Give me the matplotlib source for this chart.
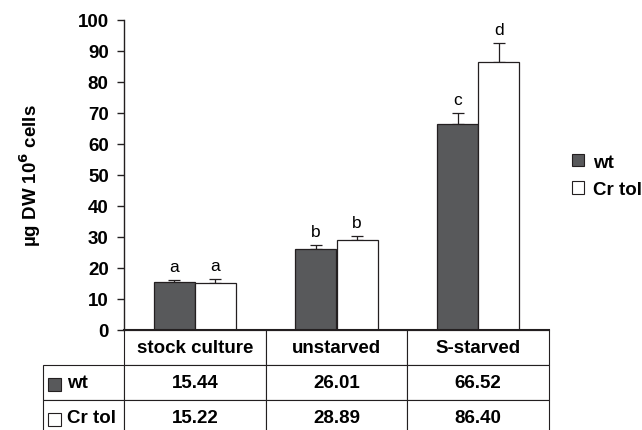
import matplotlib
matplotlib.use("Agg")
from matplotlib import pyplot as plt
from matplotlib.patches import Patch, Rectangle
import numpy as np

plt.rcParams['font.family'] = ['Liberation Sans', 'DejaVu Sans']

conditions = ["stock culture", "unstarved", "S-starved"]
series = ["wt", "Cr tol"]
wt_vals = [15.44, 26.01, 66.52]
cr_vals = [15.22, 28.89, 86.40]
wt_err = [0.7, 1.5, 3.5]
cr_err = [1.3, 1.5, 6.1]
wt_letters = ["a", "b", "c"]
cr_letters = ["a", "b", "d"]

WT_COLOR = '#58595b'
CR_COLOR = 'white'
EDGE = '#231f20'
FS = 13.5
BAR_W = 0.29

fig = plt.figure(figsize=(6.42, 4.31), dpi=100)
ax = fig.add_axes([124/642, 1 - 331/431, 425/642, 310/431])

x = np.arange(len(conditions))
ax.bar(x - BAR_W/2, wt_vals, BAR_W, color=WT_COLOR, edgecolor=EDGE, linewidth=0.9, zorder=2)
ax.bar(x + BAR_W/2, cr_vals, BAR_W, color=CR_COLOR, edgecolor=EDGE, linewidth=0.9, zorder=2)
ax.errorbar(x - BAR_W/2, wt_vals, yerr=[np.zeros(3), wt_err], fmt='none',
            ecolor=EDGE, elinewidth=0.9, capsize=4.3, capthick=0.9, zorder=1)
ax.errorbar(x + BAR_W/2, cr_vals, yerr=[np.zeros(3), cr_err], fmt='none',
            ecolor=EDGE, elinewidth=0.9, capsize=4.3, capthick=0.9, zorder=1)

for xi, v, e, l in zip(x - BAR_W/2, wt_vals, wt_err, wt_letters):
    ax.annotate(l, (xi, v + e), xytext=(0, 6.5), textcoords='offset points',
                ha='center', va='baseline', fontsize=12.5)
for xi, v, e, l in zip(x + BAR_W/2, cr_vals, cr_err, cr_letters):
    ax.annotate(l, (xi, v + e), xytext=(0, 6.5), textcoords='offset points',
                ha='center', va='baseline', fontsize=12.5)

ax.set_xlim(-0.5, 2.5)
ax.set_ylim(0, 100)
ax.set_yticks(np.arange(0, 101, 10))
ax.set_xticks([])
for lab in ax.get_yticklabels():
    lab.set_fontweight('bold')
    lab.set_fontsize(FS)
ax.tick_params(axis='y', length=5, width=1, pad=6, colors=EDGE, labelcolor='black')
ax.spines['top'].set_visible(False)
ax.spines['right'].set_visible(False)
ax.spines['left'].set_linewidth(1.0)
ax.spines['left'].set_color(EDGE)
ax.spines['bottom'].set_linewidth(1.5)
ax.spines['bottom'].set_color(EDGE)

ax.set_ylabel("µg DW 10$^\\mathbf{6}$ cells", fontsize=13.5, fontweight='bold')
ax.yaxis.set_label_coords(-94/425, 0.5)
ax.yaxis.label.set_va('center')

# data table under the axis (bbox covers the data cells, row labels sit left of it)
cell_text = [[f"{v:.2f}" for v in wt_vals], [f"{v:.2f}" for v in cr_vals]]
lab_w = 81/425
tab_h = 105/310
tbl = ax.table(cellText=cell_text, rowLabels=series, colLabels=conditions,
               cellLoc='center', rowLoc='left', colWidths=[1/3]*3,
               bbox=[0, -tab_h, 1, tab_h])
tbl._autoColumns = []
tbl.auto_set_font_size(False)
for (r, c), cell in tbl.get_celld().items():
    cell.set_edgecolor(EDGE)
    cell.set_linewidth(0.8)
    cell.get_text().set_fontsize(FS)
    cell.get_text().set_fontweight('bold')
    if c == -1:
        cell.set_width(lab_w)
        cell.PAD = 0.3

# little colour keys in the row label cells
row_h = tab_h / 3
for i, col in enumerate([WT_COLOR, CR_COLOR]):
    yc = -row_h * (1.5 + i) - 1.5/310
    ax.add_patch(Rectangle((-lab_w + 5/425, yc - 6.5/310), 13/425, 13/310,
                           transform=ax.transAxes, facecolor=col, edgecolor=EDGE,
                           linewidth=0.8, clip_on=False))

handles = [Patch(facecolor=WT_COLOR, edgecolor=EDGE, linewidth=0.8),
           Patch(facecolor=CR_COLOR, edgecolor=EDGE, linewidth=0.8)]
leg = fig.legend(handles, series, loc='center left', bbox_to_anchor=(572/642, 0.59),
                 frameon=False, borderpad=0, borderaxespad=0, handlelength=0.65,
                 handleheight=0.65, handletextpad=0.45, labelspacing=0.55,
                 prop={'weight': 'bold', 'size': FS})

plt.savefig("out.png", dpi=100)
